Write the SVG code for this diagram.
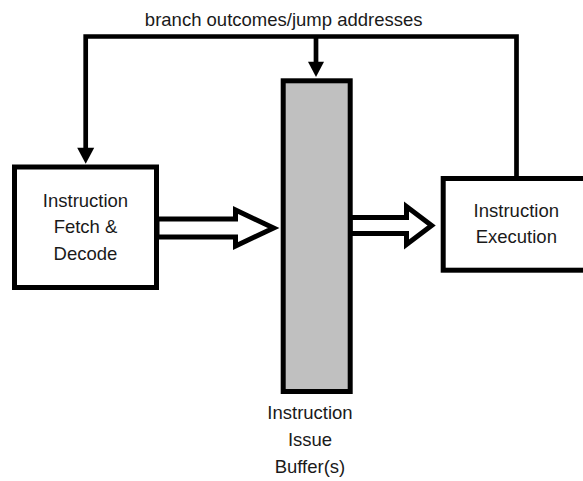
<svg xmlns="http://www.w3.org/2000/svg" width="583" height="481" viewBox="0 0 583 481">
  <style>
    .box { fill: #ffffff; stroke: #000000; stroke-width: 5; }
    .buf { fill: #c0c0c0; stroke: #000000; stroke-width: 5; }
    .wire { fill: none; stroke: #000000; stroke-width: 4.7; }
    .head { fill: #000000; stroke: none; }
    .hollow { fill: #ffffff; stroke: #000000; stroke-width: 5; stroke-linejoin: miter; }
    .lbl { font-family: "Liberation Sans", Arial, sans-serif; font-size: 18.5px; fill: #1a1a1a; text-anchor: middle; }
  </style>
  <rect width="583" height="481" fill="#ffffff"/>
  <g id="connectors">
    <path class="wire" d="M 85.7 148 V 36.5 H 516.5 V 176"/>
    <path class="wire" d="M 316 36.5 V 63"/>
    <polygon class="head" points="77.2,147.7 94.2,147.7 85.7,163.8"/>
    <polygon class="head" points="308,61.7 324,61.7 316,77"/>
    <polygon class="hollow" points="157,219 235.5,219 235.5,210 273.6,228 235.5,246 235.5,237 157,237"/>
    <polygon class="hollow" points="350,217.5 406.5,217.5 406.5,206.5 431.6,225.5 406.5,244.5 406.5,233.5 350,233.5"/>
    <text class="lbl" x="283.7" y="26">branch outcomes/jump addresses</text>
  </g>
  <g id="fetch">
    <rect class="box" x="14.5" y="167" width="142" height="120.5"/>
    <text class="lbl" x="85.5" y="206.5">Instruction</text>
    <text class="lbl" x="85.5" y="233">Fetch &amp;</text>
    <text class="lbl" x="85.5" y="259.5">Decode</text>
  </g>
  <g id="buffer">
    <rect class="buf" x="283.2" y="80.8" width="67" height="310.7"/>
    <text class="lbl" x="310" y="419.3">Instruction</text>
    <text class="lbl" x="310" y="446">Issue</text>
    <text class="lbl" x="310" y="472.7">Buffer(s)</text>
  </g>
  <g id="execution">
    <rect class="box" x="443.2" y="178.5" width="150" height="91.7"/>
    <text class="lbl" x="516.3" y="216.7">Instruction</text>
    <text class="lbl" x="516.3" y="243.3">Execution</text>
  </g>
</svg>
